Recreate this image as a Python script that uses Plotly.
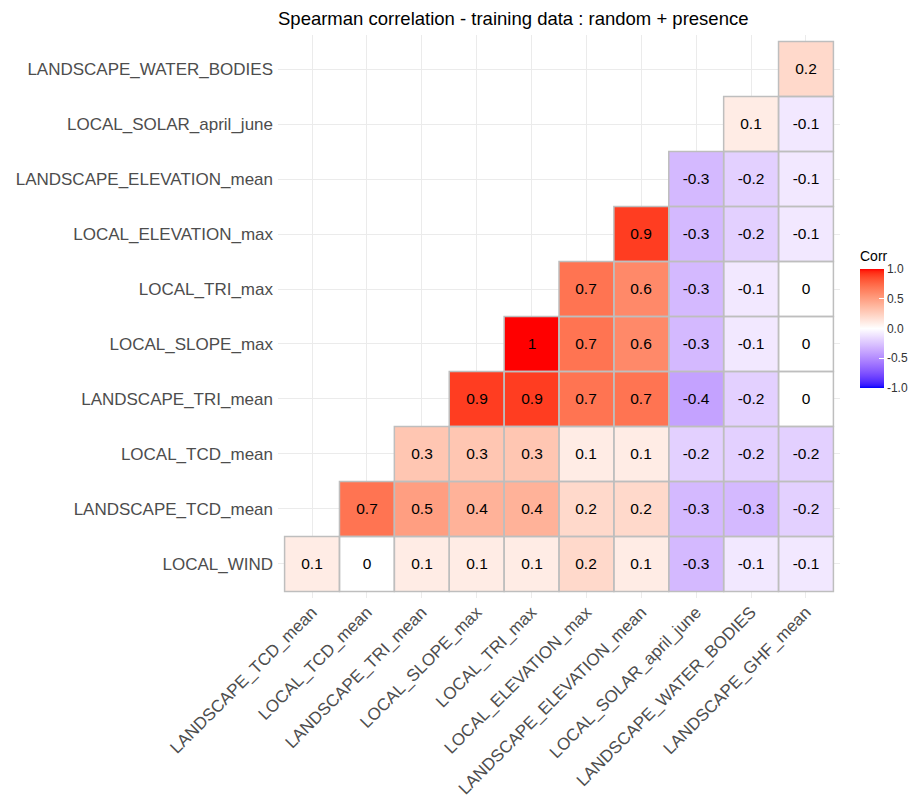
import numpy as np
import plotly.graph_objects as go

# ---------------- data ----------------
x_vars = ["LANDSCAPE_TCD_mean", "LOCAL_TCD_mean", "LANDSCAPE_TRI_mean", "LOCAL_SLOPE_max",
          "LOCAL_TRI_max", "LOCAL_ELEVATION_max", "LANDSCAPE_ELEVATION_mean",
          "LOCAL_SOLAR_april_june", "LANDSCAPE_WATER_BODIES", "LANDSCAPE_GHF_mean"]
# bottom to top
y_vars = ["LOCAL_WIND", "LANDSCAPE_TCD_mean", "LOCAL_TCD_mean", "LANDSCAPE_TRI_mean",
          "LOCAL_SLOPE_max", "LOCAL_TRI_max", "LOCAL_ELEVATION_max",
          "LANDSCAPE_ELEVATION_mean", "LOCAL_SOLAR_april_june", "LANDSCAPE_WATER_BODIES"]

# each row starts at the x variable with the same index as the row
row_LOCAL_WIND = [0.1, 0, 0.1, 0.1, 0.1, 0.2, 0.1, -0.3, -0.1, -0.1]
row_LANDSCAPE_TCD_mean = [0.7, 0.5, 0.4, 0.4, 0.2, 0.2, -0.3, -0.3, -0.2]
row_LOCAL_TCD_mean = [0.3, 0.3, 0.3, 0.1, 0.1, -0.2, -0.2, -0.2]
row_LANDSCAPE_TRI_mean = [0.9, 0.9, 0.7, 0.7, -0.4, -0.2, 0]
row_LOCAL_SLOPE_max = [1, 0.7, 0.6, -0.3, -0.1, 0]
row_LOCAL_TRI_max = [0.7, 0.6, -0.3, -0.1, 0]
row_LOCAL_ELEVATION_max = [0.9, -0.3, -0.2, -0.1]
row_LANDSCAPE_ELEVATION_mean = [-0.3, -0.2, -0.1]
row_LOCAL_SOLAR_april_june = [0.1, -0.1]
row_LANDSCAPE_WATER_BODIES = [0.2]

rows = [row_LOCAL_WIND, row_LANDSCAPE_TCD_mean, row_LOCAL_TCD_mean, row_LANDSCAPE_TRI_mean,
        row_LOCAL_SLOPE_max, row_LOCAL_TRI_max, row_LOCAL_ELEVATION_max,
        row_LANDSCAPE_ELEVATION_mean, row_LOCAL_SOLAR_april_june, row_LANDSCAPE_WATER_BODIES]

colorbar_ticks = [-1.0, -0.5, 0.0, 0.5, 1.0]
colorbar_ticktext = ["-1.0", "-0.5", "0.0", "0.5", "1.0"]

# ---------------- Lab-interpolated diverging colour scale ----------------
def srgb_to_lab(rgb):
    c = np.array(rgb, dtype=float) / 255.0
    c = np.where(c <= 0.04045, c / 12.92, ((c + 0.055) / 1.055) ** 2.4)
    M = np.array([[0.4124564, 0.3575761, 0.1804375],
                  [0.2126729, 0.7151522, 0.0721750],
                  [0.0193339, 0.1191920, 0.9503041]])
    xyz = M @ c
    white = np.array([0.95047, 1.0, 1.08883])
    t = xyz / white
    f = np.where(t > (6 / 29) ** 3, np.cbrt(t), t / (3 * (6 / 29) ** 2) + 4 / 29)
    return np.array([116 * f[1] - 16, 500 * (f[0] - f[1]), 200 * (f[1] - f[2])])

def lab_to_srgb(lab):
    L, a, b = lab
    fy = (L + 16) / 116
    fx = fy + a / 500
    fz = fy - b / 200
    def finv(t):
        return t ** 3 if t > 6 / 29 else 3 * (6 / 29) ** 2 * (t - 4 / 29)
    white = np.array([0.95047, 1.0, 1.08883])
    xyz = np.array([finv(fx), finv(fy), finv(fz)]) * white
    Minv = np.array([[3.2404542, -1.5371385, -0.4985314],
                     [-0.9692660, 1.8760108, 0.0415560],
                     [0.0556434, -0.2040259, 1.0572252]])
    c = Minv @ xyz
    c = np.clip(c, 0, 1)
    c = np.where(c <= 0.0031308, 12.92 * c, 1.055 * c ** (1 / 2.4) - 0.055)
    r, g, bb = (np.clip(c, 0, 1) * 255).round().astype(int)
    return f"rgb({r},{g},{bb})"

lab_low = srgb_to_lab((0, 0, 255))
lab_mid = srgb_to_lab((255, 255, 255))
lab_high = srgb_to_lab((255, 0, 0))
colorscale = []
n_half = 25
for k in range(n_half + 1):
    t = k / n_half
    colorscale.append([0.5 * t, lab_to_srgb(lab_low + (lab_mid - lab_low) * t)])
for k in range(1, n_half + 1):
    t = k / n_half
    colorscale.append([0.5 + 0.5 * t, lab_to_srgb(lab_mid + (lab_high - lab_mid) * t)])

# ---------------- build matrix ----------------
nx, ny = len(x_vars), len(y_vars)
z = [[None] * nx for _ in range(ny)]
txt = [[""] * nx for _ in range(ny)]
cells = []
for j, row in enumerate(rows):
    for k, v in enumerate(row):
        i = j + k
        z[j][i] = v
        txt[j][i] = f"{v:g}"
        cells.append((i, j))

FONT = "Liberation Sans, Arial, sans-serif"

fig = go.Figure()
fig.add_trace(go.Heatmap(
    z=z, x=list(range(nx)), y=list(range(ny)),
    text=txt, texttemplate="%{text}",
    textfont=dict(family=FONT, size=15.5, color="black"),
    colorscale=colorscale, zmin=-1, zmax=1,
    hoverinfo="skip",
    colorbar=dict(
        title=dict(text="Corr", side="top", font=dict(family=FONT, size=14, color="black")),
        tickvals=colorbar_ticks, ticktext=colorbar_ticktext,
        ticks="inside", tickcolor="white", ticklen=5, tickwidth=1,
        tickfont=dict(family=FONT, size=12, color="#333333"),
        outlinewidth=0, thickness=24,
        lenmode="pixels", len=140, ypad=0, xpad=0,
        x=1.0356, xanchor="left", y=0.622, yanchor="top",
    ),
))

for (i, j) in cells:
    fig.add_shape(type="rect", x0=i - 0.5, x1=i + 0.5, y0=j - 0.5, y1=j + 0.5,
                  line=dict(color="#BEBEBE", width=1.5), fillcolor="rgba(0,0,0,0)",
                  layer="above")

fig.update_layout(
    width=912, height=792,
    margin=dict(l=270, r=80, t=27, b=202, autoexpand=False),
    paper_bgcolor="white", plot_bgcolor="white",
    title=dict(text="Spearman correlation - training data : random + presence",
               x=0, xref="paper", xanchor="left", yref="container", y=0.9867, yanchor="middle",
               font=dict(family=FONT, size=18.5, color="black")),
    xaxis=dict(range=[-0.62, 9.62], tickvals=list(range(nx)), ticktext=x_vars,
               tickangle=-45, tickfont=dict(family=FONT, size=17, color="#4D4D4D"),
               showgrid=True, gridcolor="#EBEBEB", gridwidth=1.3, zeroline=False,
               showline=False, ticks="", fixedrange=True, automargin=False),
    yaxis=dict(range=[-0.62, 9.62], tickvals=list(range(ny)), ticktext=y_vars,
               tickfont=dict(family=FONT, size=17, color="#4D4D4D"),
               showgrid=True, gridcolor="#EBEBEB", gridwidth=1.3, zeroline=False,
               showline=False, ticks="", fixedrange=True, automargin=False,
               ticklabelstandoff=4),
)

fig.write_html("out.html")
